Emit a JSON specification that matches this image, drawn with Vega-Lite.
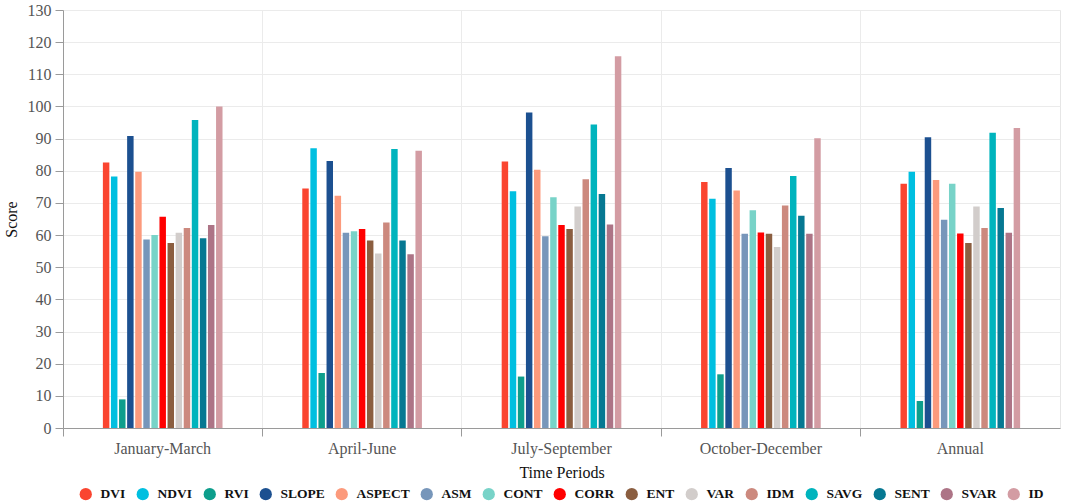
{
  "$schema": "https://vega.github.io/schema/vega-lite/v6.json",
  "autosize": "none",
  "width": 997,
  "height": 418,
  "padding": {"left": 63, "top": 10, "right": 5, "bottom": 74},
  "background": "white",
  "config": {
    "font": "Liberation Serif",
    "view": {"stroke": "#e6e6e6"},
    "axis": {
      "labelFont": "Liberation Serif",
      "titleFont": "Liberation Serif",
      "labelFontSize": 16,
      "titleFontSize": 16,
      "labelColor": "#555555",
      "titleColor": "#111111",
      "titleFontWeight": "normal",
      "domainColor": "#9a9a9a",
      "tickColor": "#9a9a9a",
      "gridColor": "#ebebeb",
      "tickSize": 8
    },
    "legend": {
      "labelFont": "Liberation Serif",
      "labelFontSize": 13.5,
      "labelFontWeight": "bold",
      "labelColor": "#111111",
      "layout": {"bottom": {"anchor": "middle"}}
    }
  },
  "data": {
    "values": [
      {"period": "January-March", "metric": "DVI", "score": 82.6},
      {"period": "January-March", "metric": "NDVI", "score": 78.2},
      {"period": "January-March", "metric": "RVI", "score": 8.9},
      {"period": "January-March", "metric": "SLOPE", "score": 90.8},
      {"period": "January-March", "metric": "ASPECT", "score": 79.7},
      {"period": "January-March", "metric": "ASM", "score": 58.6},
      {"period": "January-March", "metric": "CONT", "score": 60.0},
      {"period": "January-March", "metric": "CORR", "score": 65.7},
      {"period": "January-March", "metric": "ENT", "score": 57.5},
      {"period": "January-March", "metric": "VAR", "score": 60.7},
      {"period": "January-March", "metric": "IDM", "score": 62.2},
      {"period": "January-March", "metric": "SAVG", "score": 95.8},
      {"period": "January-March", "metric": "SENT", "score": 59.0},
      {"period": "January-March", "metric": "SVAR", "score": 63.1},
      {"period": "January-March", "metric": "ID", "score": 100.0},
      {"period": "April-June", "metric": "DVI", "score": 74.5},
      {"period": "April-June", "metric": "NDVI", "score": 87.0},
      {"period": "April-June", "metric": "RVI", "score": 17.1},
      {"period": "April-June", "metric": "SLOPE", "score": 83.0},
      {"period": "April-June", "metric": "ASPECT", "score": 72.2},
      {"period": "April-June", "metric": "ASM", "score": 60.7},
      {"period": "April-June", "metric": "CONT", "score": 61.2},
      {"period": "April-June", "metric": "CORR", "score": 61.9},
      {"period": "April-June", "metric": "ENT", "score": 58.3},
      {"period": "April-June", "metric": "VAR", "score": 54.3},
      {"period": "April-June", "metric": "IDM", "score": 63.9},
      {"period": "April-June", "metric": "SAVG", "score": 86.8},
      {"period": "April-June", "metric": "SENT", "score": 58.3},
      {"period": "April-June", "metric": "SVAR", "score": 54.0},
      {"period": "April-June", "metric": "ID", "score": 86.2},
      {"period": "July-September", "metric": "DVI", "score": 82.9},
      {"period": "July-September", "metric": "NDVI", "score": 73.6},
      {"period": "July-September", "metric": "RVI", "score": 16.0},
      {"period": "July-September", "metric": "SLOPE", "score": 98.1},
      {"period": "July-September", "metric": "ASPECT", "score": 80.3},
      {"period": "July-September", "metric": "ASM", "score": 59.6},
      {"period": "July-September", "metric": "CONT", "score": 71.8},
      {"period": "July-September", "metric": "CORR", "score": 63.1},
      {"period": "July-September", "metric": "ENT", "score": 61.9},
      {"period": "July-September", "metric": "VAR", "score": 68.9},
      {"period": "July-September", "metric": "IDM", "score": 77.4},
      {"period": "July-September", "metric": "SAVG", "score": 94.4},
      {"period": "July-September", "metric": "SENT", "score": 72.8},
      {"period": "July-September", "metric": "SVAR", "score": 63.3},
      {"period": "July-September", "metric": "ID", "score": 115.6},
      {"period": "October-December", "metric": "DVI", "score": 76.5},
      {"period": "October-December", "metric": "NDVI", "score": 71.3},
      {"period": "October-December", "metric": "RVI", "score": 16.7},
      {"period": "October-December", "metric": "SLOPE", "score": 80.9},
      {"period": "October-December", "metric": "ASPECT", "score": 73.9},
      {"period": "October-December", "metric": "ASM", "score": 60.4},
      {"period": "October-December", "metric": "CONT", "score": 67.7},
      {"period": "October-December", "metric": "CORR", "score": 60.8},
      {"period": "October-December", "metric": "ENT", "score": 60.4},
      {"period": "October-December", "metric": "VAR", "score": 56.3},
      {"period": "October-December", "metric": "IDM", "score": 69.2},
      {"period": "October-December", "metric": "SAVG", "score": 78.4},
      {"period": "October-December", "metric": "SENT", "score": 66.0},
      {"period": "October-December", "metric": "SVAR", "score": 60.4},
      {"period": "October-December", "metric": "ID", "score": 90.1},
      {"period": "Annual", "metric": "DVI", "score": 76.0},
      {"period": "Annual", "metric": "NDVI", "score": 79.7},
      {"period": "Annual", "metric": "RVI", "score": 8.4},
      {"period": "Annual", "metric": "SLOPE", "score": 90.4},
      {"period": "Annual", "metric": "ASPECT", "score": 77.1},
      {"period": "Annual", "metric": "ASM", "score": 64.8},
      {"period": "Annual", "metric": "CONT", "score": 76.0},
      {"period": "Annual", "metric": "CORR", "score": 60.5},
      {"period": "Annual", "metric": "ENT", "score": 57.5},
      {"period": "Annual", "metric": "VAR", "score": 68.9},
      {"period": "Annual", "metric": "IDM", "score": 62.2},
      {"period": "Annual", "metric": "SAVG", "score": 91.8},
      {"period": "Annual", "metric": "SENT", "score": 68.4},
      {"period": "Annual", "metric": "SVAR", "score": 60.7},
      {"period": "Annual", "metric": "ID", "score": 93.3}
    ]
  },
  "mark": {"type": "bar"},
  "encoding": {
    "x": {
      "field": "period",
      "type": "nominal",
      "sort": ["January-March", "April-June", "July-September", "October-December", "Annual"],
      "scale": {"paddingInner": 0.4, "paddingOuter": 0.2},
      "axis": {
        "title": "Time Periods",
        "labelAngle": 0,
        "bandPosition": -0.3333,
        "labelPadding": 4,
        "titlePadding": 8,
        "grid": true
      }
    },
    "xOffset": {
      "field": "metric",
      "type": "nominal",
      "scale": {
        "domain": ["DVI", "NDVI", "RVI", "SLOPE", "ASPECT", "ASM", "CONT", "CORR", "ENT", "VAR", "IDM", "SAVG", "SENT", "SVAR", "ID"],
        "paddingInner": 0.2,
        "paddingOuter": 0
      }
    },
    "y": {
      "field": "score",
      "type": "quantitative",
      "scale": {"domain": [0, 130], "nice": false},
      "axis": {
        "title": "Score",
        "values": [0, 10, 20, 30, 40, 50, 60, 70, 80, 90, 100, 110, 120, 130],
        "labelOverlap": false,
        "labelPadding": 4,
        "titlePadding": 8
      }
    },
    "color": {
      "field": "metric",
      "type": "nominal",
      "scale": {
        "domain": ["DVI", "NDVI", "RVI", "SLOPE", "ASPECT", "ASM", "CONT", "CORR", "ENT", "VAR", "IDM", "SAVG", "SENT", "SVAR", "ID"],
        "range": ["#fa4530", "#00bfe0", "#0d9e8c", "#1c5090", "#fc9a7c", "#7796ba", "#78d3c8", "#ff0000", "#8b5e40", "#d2cdcb", "#cc897e", "#00b4bd", "#067892", "#ad7486", "#d39ca3"]
      },
      "legend": {
        "title": null,
        "orient": "bottom",
        "direction": "horizontal",
        "symbolType": "circle",
        "symbolSize": 150,
        "symbolStrokeWidth": 0,
        "labelOffset": 8,
        "columnPadding": 10,
        "offset": 7
      }
    }
  }
}
